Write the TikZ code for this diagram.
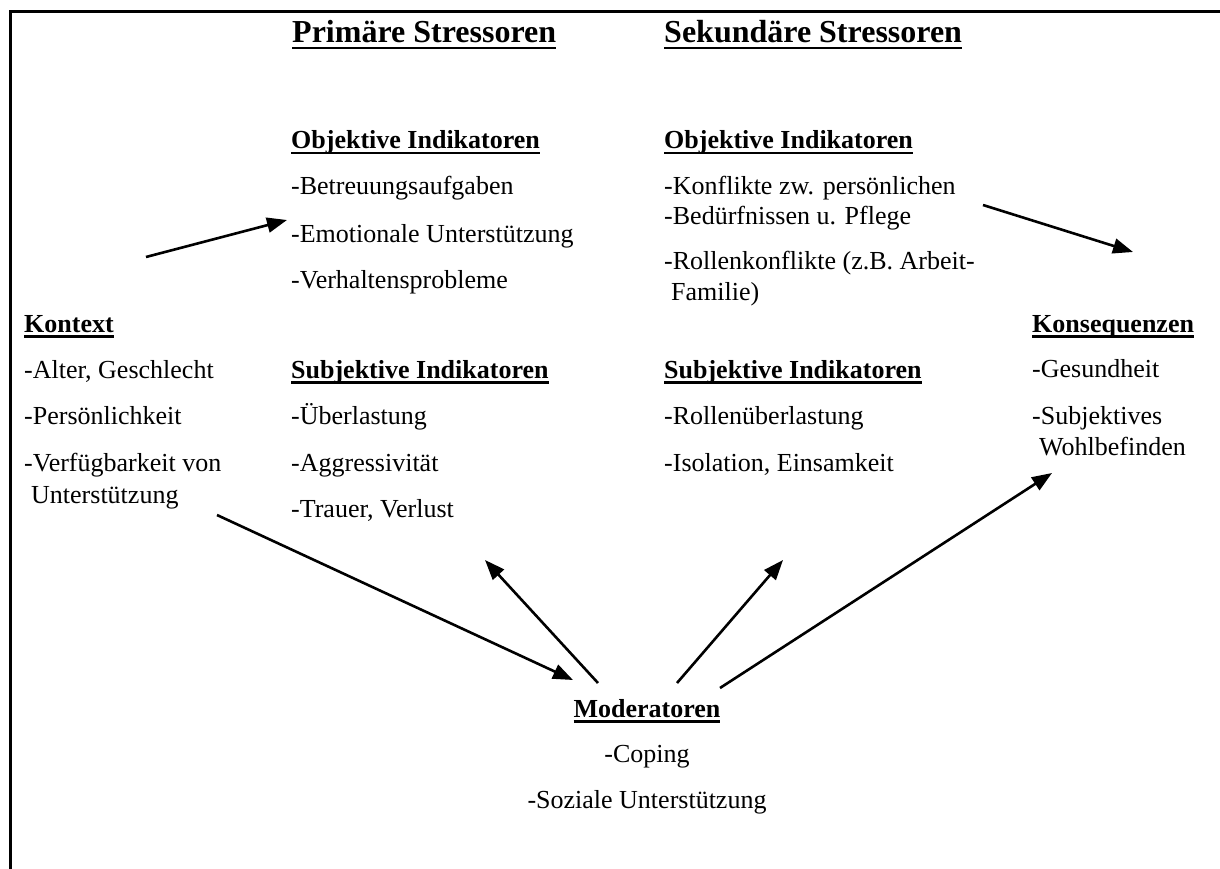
\documentclass[tikz,border=0pt]{standalone}
\usepackage{fontspec}
\setmainfont{Liberation Serif}
\usetikzlibrary{arrows.meta}

% underlined bold headings
\newcommand{\ulhead}[1]{\setbox0\hbox{\textbf{#1}}\rlap{\rule[-5.5pt]{\wd0}{2.3pt}}\box0}
\newcommand{\ultitle}[1]{\setbox0\hbox{\textbf{#1}}\rlap{\rule[-6.5pt]{\wd0}{2.6pt}}\box0}

\begin{document}
\begin{tikzpicture}[x=1pt, y=-1pt,
    txt/.style={anchor=base west, inner sep=0pt, font=\fontsize{26}{32}\selectfont},
    ttl/.style={anchor=base west, inner sep=0pt, font=\fontsize{32}{38}\selectfont},
    mid/.style={anchor=base, inner sep=0pt, font=\fontsize{26}{32}\selectfont},
    arr/.style={line width=2.6pt, -{Triangle[length=20pt, width=15pt]}}]

    \useasboundingbox (0,0) rectangle (1220,869);

    % Draw the frame
    \draw[line width=3pt] (10,869) -- (10,12) -- (1220,12);

    % Titles
    \node[ttl] (prim) at (292,43) {\ultitle{Primäre Stressoren}};
    \node[ttl] (sek)  at (664,43) {\ultitle{Sekundäre Stressoren}};

    % Primary stressors
    \node[txt] (pobj)  at (291,149) {\ulhead{Objektive Indikatoren}};
    \node[txt] (pobj1) at (291,195) {-Betreuungsaufgaben};
    \node[txt] (pobj2) at (291,242) {-Emotionale Unterstützung};
    \node[txt] (pobj3) at (291,288) {-Verhaltensprobleme};

    \node[txt] (psub)  at (291,378) {\ulhead{Subjektive Indikatoren}};
    \node[txt] (psub1) at (291,424) {-Überlastung};
    \node[txt] (psub2) at (291,471) {-Aggressivität};
    \node[txt] (psub3) at (291,517) {-Trauer, Verlust};

    % Secondary stressors
    \node[txt] (sobj)  at (664,149) {\ulhead{Objektive Indikatoren}};
    \node[txt] (sobj1) at (664,194) {-Konflikte zw. persönlichen};
    \node[txt] (sobj2) at (664,224) {-Bedürfnissen u. Pflege};
    \node[txt] (sobj3) at (664,269) {-Rollenkonflikte (z.B. Arbeit-};
    \node[txt] (sobj4) at (671,300) {Familie)};

    \node[txt] (ssub)  at (664,378) {\ulhead{Subjektive Indikatoren}};
    \node[txt] (ssub1) at (664,424) {-Rollenüberlastung};
    \node[txt] (ssub2) at (664,471) {-Isolation, Einsamkeit};

    % Context
    \node[txt] (kon)  at (24,332) {\ulhead{Kontext}};
    \node[txt] (kon1) at (24,378) {-Alter, Geschlecht};
    \node[txt] (kon2) at (24,424) {-Persönlichkeit};
    \node[txt] (kon3) at (24,471) {-Verfügbarkeit von};
    \node[txt] (kon4) at (31,503) {Unterstützung};

    % Consequences
    \node[txt] (konseq)  at (1032,332) {\ulhead{Konsequenzen}};
    \node[txt] (konseq1) at (1032,377) {-Gesundheit};
    \node[txt] (konseq2) at (1032,424) {-Subjektives};
    \node[txt] (konseq3) at (1039,455) {Wohlbefinden};

    % Moderators
    \node[mid] (mod)  at (647,717) {\ulhead{Moderatoren}};
    \node[mid] (mod1) at (647,762) {-Coping};
    \node[mid] (mod2) at (647,808) {-Soziale Unterstützung};

    % Arrow ends
    \coordinate (konA)   at (146,257);
    \coordinate (pobjA)  at (287,220);
    \coordinate (sobjA)  at (983,205);
    \coordinate (konseqA) at (1133,252);
    \coordinate (konB)   at (217,515);
    \coordinate (modIn)  at (573,680);
    \coordinate (modL)   at (598,683);
    \coordinate (psubA)  at (485,560);
    \coordinate (modR)   at (677,683);
    \coordinate (ssubA)  at (783,560);
    \coordinate (modRR)  at (720,688);
    \coordinate (konseqB) at (1052,473);

    % Draw the arrows
    \draw[arr] (konA) -- (pobjA);
    \draw[arr] (sobjA) -- (konseqA);
    \draw[arr] (konB) -- (modIn);
    \draw[arr] (modL) -- (psubA);
    \draw[arr] (modR) -- (ssubA);
    \draw[arr] (modRR) -- (konseqB);
\end{tikzpicture}
\end{document}
